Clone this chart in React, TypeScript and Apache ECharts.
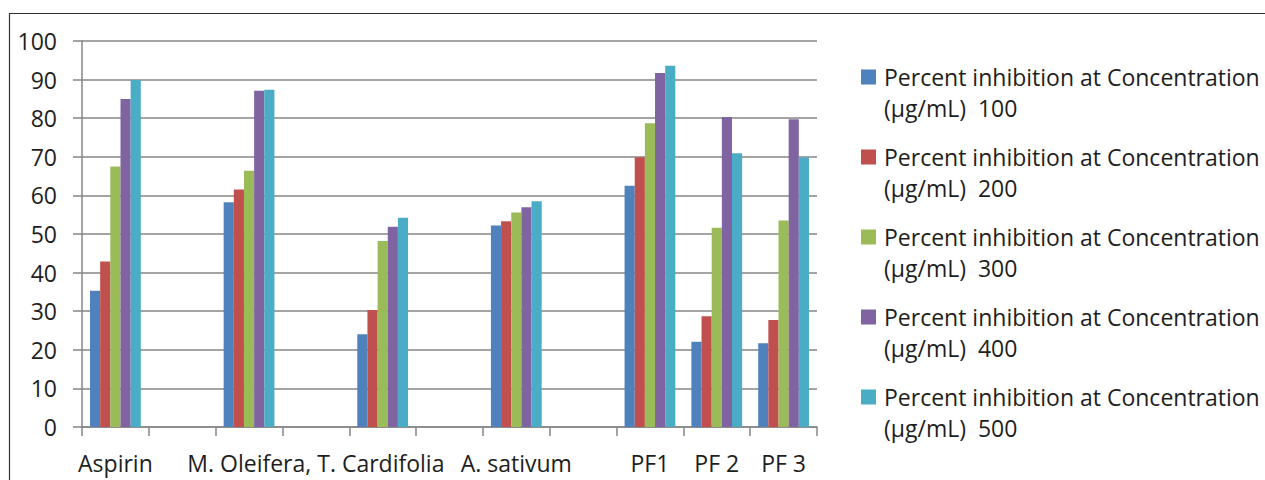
import React, { useEffect, useRef } from "react";
import * as echarts from "echarts";

// Category axis labels (some slots are empty spacer categories)
const tickLabels = [
  "Aspirin",
  "",
  "",
  "M. Oleifera, T. Cardifolia",
  "",
  "",
  "A. sativum",
  "",
  "PF1",
  "PF 2",
  "PF 3",
];

// Percent inhibition per concentration (µg/mL); null = spacer slot
const conc100 = [35.3, null, 58.2, null, 24.0, null, 52.2, null, 62.5, 22.1, 21.7];
const conc200 = [42.9, null, 61.5, null, 30.3, null, 53.3, null, 69.9, 28.7, 27.7];
const conc300 = [67.5, null, 66.4, null, 48.2, null, 55.6, null, 78.7, 51.6, 53.5];
const conc400 = [85.0, null, 87.1, null, 51.9, null, 56.9, null, 91.7, 80.3, 79.7];
const conc500 = [89.9, null, 87.4, null, 54.2, null, 58.5, null, 93.6, 70.9, 69.8];

const seriesNames = [
  "Percent inhibition at Concentration\n(µg/mL)  100",
  "Percent inhibition at Concentration\n(µg/mL)  200",
  "Percent inhibition at Concentration\n(µg/mL)  300",
  "Percent inhibition at Concentration\n(µg/mL)  400",
  "Percent inhibition at Concentration\n(µg/mL)  500",
];
const seriesData = [conc100, conc200, conc300, conc400, conc500];
const colors = ["#4F81BD", "#C0504D", "#9BBB59", "#8064A2", "#4BACC6"];

const yTicks = { min: 0, max: 100, interval: 10 };

const FONT = "'Open Sans', sans-serif";
const AXIS_GRAY = "#868686";
const TEXT = "#1e1e1e";

// Legend swatch: a 15px square at the top of a taller (invisible) box, so the
// swatch lines up with the first line of each two-line legend label.
const SWATCH = "path://M0,0L15,0L15,15L0,15Z M0,46L0,46";

export default function App() {
  const ref = useRef<HTMLDivElement>(null);

  useEffect(() => {
    if (!ref.current) return;
    const chart = echarts.init(ref.current, null, { renderer: "svg" });
    chart.setOption({
      animation: false,
      backgroundColor: "#ffffff",
      textStyle: { fontFamily: FONT },
      color: colors,
      graphic: [
        {
          type: "rect",
          silent: true,
          z: -10,
          shape: { x: 9.5, y: 13.5, width: 1400, height: 600 },
          style: { fill: "none", stroke: "#333333", lineWidth: 1.2 },
        },
      ],
      grid: {
        left: 82,
        right: 448,
        top: 41,
        bottom: 53,
        containLabel: false,
        outerBoundsMode: "none",
      },
      legend: {
        orient: "vertical",
        left: 861,
        top: 61.5,
        padding: 0,
        icon: SWATCH,
        itemWidth: 15,
        itemHeight: 46,
        itemGap: 18,
        selectedMode: false,
        textStyle: {
          fontFamily: FONT,
          fontSize: 23,
          color: TEXT,
          lineHeight: 31,
          padding: [0, 0, 0, 3],
        },
        data: seriesNames,
      },
      xAxis: {
        type: "category",
        data: tickLabels,
        boundaryGap: true,
        axisLine: { show: true, lineStyle: { color: AXIS_GRAY, width: 1.5 } },
        axisTick: {
          show: true,
          length: 9,
          interval: 0,
          alignWithLabel: false,
          lineStyle: { color: AXIS_GRAY, width: 1.5 },
        },
        axisLabel: {
          interval: 0,
          fontFamily: FONT,
          fontSize: 23,
          color: TEXT,
          margin: 24,
        },
        splitLine: { show: false },
      },
      yAxis: {
        type: "value",
        min: yTicks.min,
        max: yTicks.max,
        interval: yTicks.interval,
        axisLine: { show: true, lineStyle: { color: AXIS_GRAY, width: 1.5 } },
        axisTick: { show: true, length: 9, lineStyle: { color: AXIS_GRAY, width: 1.5 } },
        axisLabel: {
          fontFamily: FONT,
          fontSize: 23,
          color: TEXT,
          margin: 25,
        },
        splitLine: { show: true, lineStyle: { color: AXIS_GRAY, width: 1.5 } },
      },
      series: seriesNames.map((name, i) => ({
        name,
        type: "bar",
        data: seriesData[i],
        barGap: "0%",
        barCategoryGap: "24%",
        itemStyle: { color: colors[i] },
      })),
    });
    return () => chart.dispose();
  }, []);

  return (
    <div
      ref={ref}
      style={{ position: "fixed", left: 0, top: 0, width: 1265, height: 480 }}
    />
  );
}
